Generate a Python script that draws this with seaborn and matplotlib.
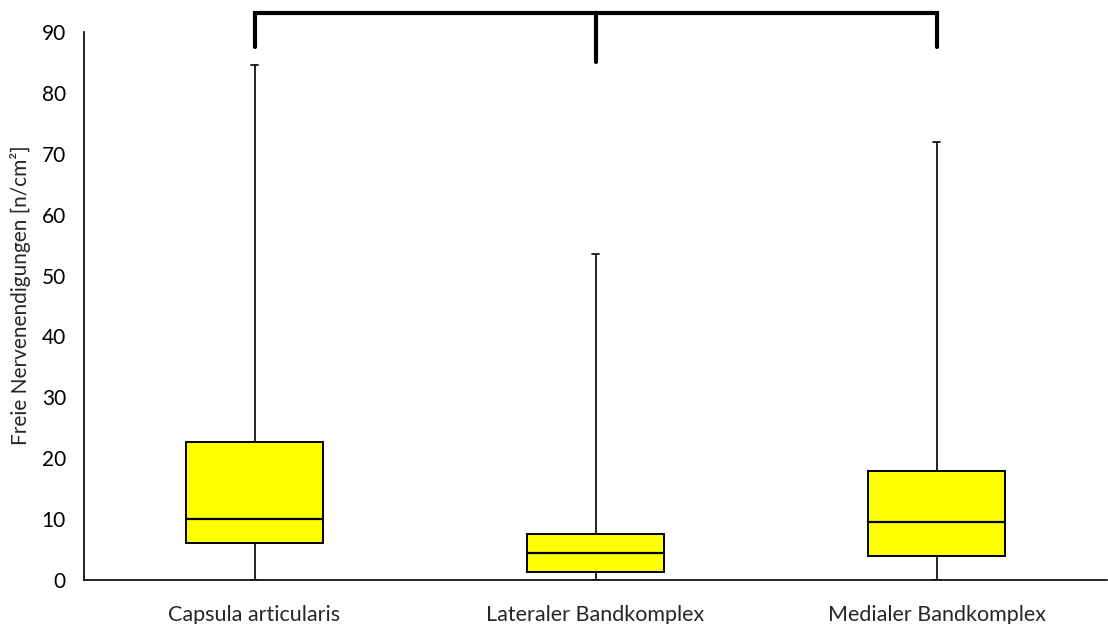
import matplotlib
matplotlib.use("Agg")
import matplotlib.pyplot as plt
import seaborn as sns
import pandas as pd
import numpy as np

# five-number summaries: min, Q1, median, Q3, max
categories = ["Capsula articularis", "Lateraler Bandkomplex", "Medialer Bandkomplex"]
capsula = [0.0, 6.1, 10.1, 22.7, 84.6]
lateral = [0.0, 1.3, 4.5, 7.6, 53.5]
medial = [0.0, 4.0, 9.6, 17.9, 71.9]
yticks = [0, 10, 20, 30, 40, 50, 60, 70, 80, 90]

# bracket on top: crossbar and leg ends
bracket_top = 93.2
bracket_legs = [87.5, 85.1, 87.6]

df = pd.DataFrame({
    "group": np.repeat(categories, 5),
    "value": capsula + lateral + medial,
})

sns.set_style("white")
plt.rcParams["font.family"] = ["Lato", "DejaVu Sans"]

fig = plt.figure(figsize=(11.08, 6.24), dpi=100)
ax = fig.add_axes([84 / 1108, 1 - 580 / 624, 1023 / 1108, 548 / 624])

sns.boxplot(data=df, x="group", y="value", order=categories, whis=(0, 100),
            width=0.4, color="#FFFF00", saturation=1, linecolor="black",
            linewidth=1.4, showfliers=False, capwidths=0.02,
            whiskerprops={"linewidth": 1.2}, capprops={"linewidth": 1.2},
            medianprops={"linewidth": 1.6}, ax=ax)

ax.set_xlim(-0.5, 2.5)
ax.set_ylim(0, 90)
ax.set_yticks(yticks)
ax.set_xlabel("")
ax.set_ylabel("Freie Nervenendigungen [n/cm²]", fontsize=15)
ax.yaxis.set_label_coords(-0.052, 0.52)

ax.spines["top"].set_visible(False)
ax.spines["right"].set_visible(False)
for s in ["left", "bottom"]:
    ax.spines[s].set_linewidth(1.2)
    ax.spines[s].set_color("black")

ax.tick_params(axis="y", direction="out", length=5, width=1.2, labelsize=15,
               pad=8, colors="black")
ax.tick_params(axis="x", which="major", length=0, labelsize=15.5, pad=18)
ax.set_xticks([0.5, 1.5], minor=True)
ax.tick_params(axis="x", which="minor", direction="out", length=5, width=1.2)

# significance bracket
ax.plot([0, 2], [bracket_top, bracket_top], color="black", lw=3, clip_on=False,
        solid_capstyle="projecting")
for i, y in enumerate(bracket_legs):
    ax.plot([i, i], [bracket_top, y], color="black", lw=3, clip_on=False)

fig.savefig("out.png", dpi=100)
